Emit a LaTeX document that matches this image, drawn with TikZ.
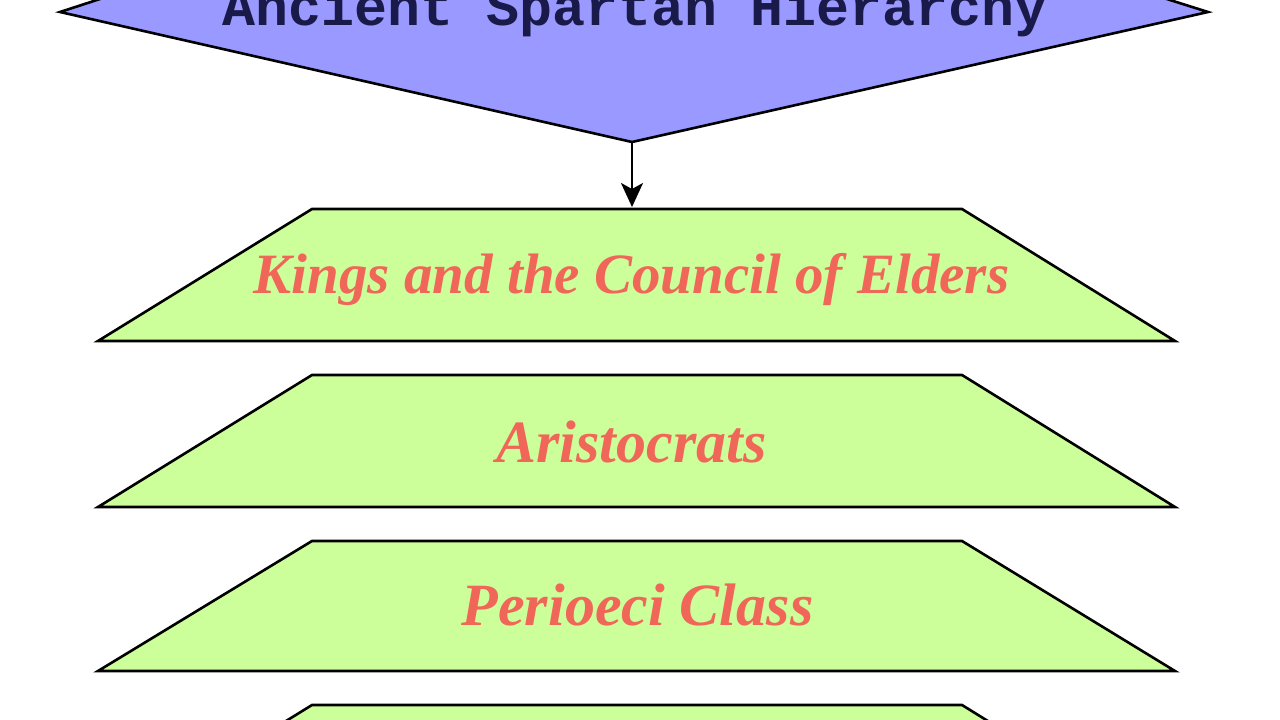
\documentclass[tikz,border=0pt]{standalone}
\usepackage{fontspec}
\setmainfont{Liberation Serif}
\newfontfamily\titlefont{Liberation Mono}
\usetikzlibrary{arrows.meta}
\definecolor{topblue}{HTML}{9999FF}
\definecolor{boxgreen}{HTML}{CCFF99}
\definecolor{labelred}{HTML}{F06658}
\definecolor{titlenavy}{HTML}{1A1A4A}
\tikzset{
  layer/.style={fill=boxgreen, draw=black, line width=2.6pt, line join=miter},
  layertext/.style={anchor=base, inner sep=0pt, text=labelred, font=\bfseries\itshape},
  topshape/.style={fill=topblue, draw=black, line width=2.6pt, line join=miter},
  link/.style={draw=black, line width=2.2pt, -{Stealth[length=24pt, width=22pt, inset=6pt]}}
}
\begin{document}
\begin{tikzpicture}[x=1pt, y=-1pt]
\useasboundingbox (0,0) rectangle (1280,720);
\clip (0,0) rectangle (1280,720);
\fill[white] (0,0) rectangle (1280,720);
% top shape
\draw[topshape] (60,12) -- (632,142) -- (1208,12) -- (1075,-30) -- (189,-30) -- cycle;
\node[anchor=base, inner sep=0pt, text=titlenavy, font=\titlefont\bfseries\fontsize{55}{60}\selectfont] (title) at (635,25) {Ancient Spartan Hierarchy};
\coordinate (tip) at (632,142);
% layers
\draw[layer] (98,341) -- (312,209) -- (962,209) -- (1175,341) -- cycle;
\coordinate (l1top) at (632,207);
\node[layertext, font=\bfseries\itshape\fontsize{57}{60}\selectfont] (kings) at (631.5,293) {Kings and the Council of Elders};
\draw[layer] (98,507) -- (312,375) -- (962,375) -- (1175,507) -- cycle;
\node[layertext, font=\bfseries\itshape\fontsize{60}{64}\selectfont] (aristo) at (631.5,462) {Aristocrats};
\draw[layer] (98,671) -- (312,541) -- (962,541) -- (1175,671) -- cycle;
\node[layertext, font=\bfseries\itshape\fontsize{60}{64}\selectfont] (perioeci) at (637.5,625) {Perioeci Class};
\draw[layer] (98,837) -- (312,705) -- (962,705) -- (1175,837) -- cycle;
% connector
\draw[link] (tip) -- (l1top);
\end{tikzpicture}
\end{document}
